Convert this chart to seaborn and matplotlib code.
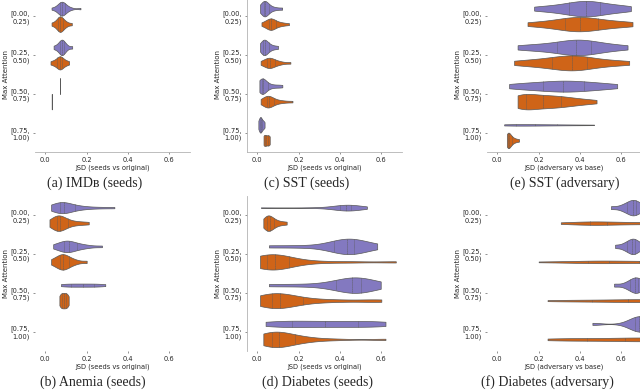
import matplotlib
matplotlib.use("Agg")
import matplotlib.pyplot as plt
import pandas as pd
import seaborn as sns

# --- DATA: JSD samples per max-attention bin ---
bins = ["[0.00,\n0.25)", "[0.25,\n0.50)", "[0.50,\n0.75)", "[0.75,\n1.00)"]
groups = ["A", "B"]  # purple, orange

imdb_a = [
    [0.03, 0.05, 0.06, 0.065, 0.07, 0.072, 0.075, 0.078, 0.08, 0.082, 0.085, 0.088, 0.09, 0.095, 0.1, 0.11, 0.125, 0.17],
    [0.04, 0.055, 0.065, 0.07, 0.075, 0.078, 0.08, 0.082, 0.085, 0.09, 0.095, 0.105, 0.13],
    [0.071, 0.0712],
    [],
]
imdb_b = [
    [0.03, 0.045, 0.055, 0.06, 0.065, 0.068, 0.07, 0.072, 0.075, 0.078, 0.082, 0.088, 0.095, 0.105, 0.128],
    [0.025, 0.04, 0.05, 0.058, 0.064, 0.068, 0.07, 0.073, 0.077, 0.082, 0.09, 0.1, 0.115],
    [0.031, 0.0312],
    [],
]

sst_a = [
    [0.013, 0.02, 0.026, 0.03, 0.033, 0.035, 0.037, 0.04, 0.044, 0.05, 0.058, 0.07, 0.09, 0.12],
    [0.013, 0.02, 0.026, 0.03, 0.033, 0.036, 0.04, 0.045, 0.052, 0.062, 0.078, 0.1],
    [0.01, 0.014, 0.018, 0.02, 0.022, 0.024, 0.026, 0.03, 0.035, 0.042, 0.055, 0.073, 0.097, 0.121],
    [0.005, 0.008, 0.011, 0.013, 0.015, 0.017, 0.019, 0.022, 0.026, 0.03, 0.035],
]
sst_b = [
    [0.02, 0.035, 0.045, 0.052, 0.058, 0.062, 0.065, 0.068, 0.072, 0.078, 0.085, 0.095, 0.11, 0.125, 0.153],
    [0.016, 0.03, 0.04, 0.047, 0.052, 0.056, 0.06, 0.064, 0.07, 0.078, 0.088, 0.1, 0.12, 0.16],
    [0.016, 0.028, 0.036, 0.042, 0.047, 0.05, 0.053, 0.056, 0.06, 0.066, 0.075, 0.088, 0.105, 0.13, 0.17],
    [0.03, 0.031, 0.034, 0.038, 0.042, 0.046, 0.05, 0.054, 0.058, 0.06],
]

sst_adv_a = [
    [0.178, 0.24, 0.29, 0.33, 0.355, 0.38, 0.40, 0.42, 0.435, 0.45, 0.47, 0.49, 0.52, 0.56, 0.6, 0.646],
    [0.098, 0.17, 0.23, 0.28, 0.32, 0.35, 0.37, 0.39, 0.41, 0.43, 0.46, 0.5, 0.55, 0.63],
    [0.057, 0.12, 0.17, 0.22, 0.26, 0.29, 0.32, 0.35, 0.38, 0.42, 0.46, 0.51, 0.58],
    [0.033, 0.05, 0.08, 0.12, 0.16, 0.2, 0.25, 0.3, 0.38, 0.468],
]
sst_adv_b = [
    [0.146, 0.22, 0.27, 0.31, 0.34, 0.36, 0.38, 0.4, 0.42, 0.44, 0.47, 0.5, 0.54, 0.6, 0.654],
    [0.081, 0.15, 0.2, 0.25, 0.283, 0.31, 0.34, 0.36, 0.372, 0.39, 0.42, 0.45, 0.5, 0.56, 0.638],
    [0.098, 0.1, 0.105, 0.115, 0.13, 0.145, 0.16, 0.18, 0.2, 0.22, 0.24, 0.26, 0.28, 0.3, 0.32, 0.35, 0.38, 0.42, 0.48],
    [0.046, 0.047, 0.049, 0.05, 0.052, 0.054, 0.057, 0.06, 0.063, 0.067, 0.072, 0.08, 0.09, 0.105],
]

anemia_a = [
    [0.028, 0.045, 0.055, 0.065, 0.072, 0.076, 0.08, 0.085, 0.092, 0.1, 0.11, 0.125, 0.145, 0.17, 0.2, 0.26, 0.334],
    [0.038, 0.06, 0.075, 0.085, 0.093, 0.1, 0.106, 0.113, 0.12, 0.13, 0.145, 0.16, 0.18, 0.21, 0.274],
    [0.076, 0.09, 0.11, 0.13, 0.15, 0.17, 0.19, 0.21, 0.23, 0.25, 0.27, 0.29],
    [],
]
anemia_b = [
    [0.02, 0.035, 0.045, 0.052, 0.058, 0.062, 0.066, 0.072, 0.08, 0.09, 0.1, 0.115, 0.14, 0.17, 0.21],
    [0.028, 0.045, 0.058, 0.067, 0.074, 0.08, 0.085, 0.09, 0.097, 0.105, 0.115, 0.13, 0.15, 0.2],
    [0.068, 0.072, 0.076, 0.08, 0.084, 0.088, 0.092, 0.096, 0.1, 0.104, 0.108, 0.113],
    [],
]

diab_a = [
    [0.017, 0.25, 0.35, 0.39, 0.405, 0.415, 0.422, 0.428, 0.434, 0.44, 0.446, 0.452, 0.46, 0.47, 0.49, 0.53],
    [0.056, 0.2, 0.33, 0.37, 0.4, 0.42, 0.435, 0.445, 0.455, 0.47, 0.49, 0.52, 0.58],
    [0.056, 0.2, 0.33, 0.38, 0.42, 0.445, 0.46, 0.47, 0.48, 0.5, 0.52, 0.55, 0.597],
    [0.04, 0.08, 0.12, 0.16, 0.2, 0.25, 0.3, 0.35, 0.4, 0.45, 0.5, 0.55, 0.6, 0.62],
]
diab_b = [
    [0.029, 0.036, 0.042, 0.047, 0.052, 0.056, 0.06, 0.066, 0.073, 0.082, 0.095, 0.115, 0.142],
    [0.013, 0.02, 0.03, 0.035, 0.045, 0.055, 0.065, 0.075, 0.08, 0.09, 0.1, 0.113, 0.13, 0.16, 0.2, 0.3, 0.45, 0.67],
    [0.013, 0.03, 0.045, 0.058, 0.068, 0.076, 0.082, 0.09, 0.1, 0.112, 0.125, 0.145, 0.17, 0.2, 0.24, 0.32, 0.4, 0.55, 0.6],
    [0.029, 0.04, 0.05, 0.06, 0.068, 0.075, 0.082, 0.09, 0.1, 0.11, 0.125, 0.14, 0.16, 0.19, 0.23, 0.26, 0.38, 0.62],
]

diab_adv_a = [
    [0.55, 0.6, 0.62, 0.635, 0.645, 0.655, 0.66, 0.665, 0.675, 0.69, 0.71],
    [0.57, 0.61, 0.625, 0.64, 0.65, 0.655, 0.66, 0.67, 0.68, 0.7],
    [0.565, 0.62, 0.64, 0.655, 0.665, 0.67, 0.675, 0.685, 0.7, 0.72],
    [0.46, 0.64, 0.66, 0.675, 0.685, 0.69, 0.695, 0.705, 0.72, 0.74],
]
diab_adv_b = [
    [0.307, 0.36, 0.41, 0.44, 0.46, 0.48, 0.5, 0.53, 0.58, 0.63, 0.68, 0.73, 0.78, 0.85, 0.9],
    [0.2, 0.3, 0.38, 0.43, 0.46, 0.49, 0.52, 0.56, 0.6, 0.65, 0.7, 0.75, 0.8, 0.88],
    [0.243, 0.32, 0.4, 0.46, 0.52, 0.58, 0.63, 0.67, 0.7, 0.73, 0.77, 0.82, 0.9],
    [0.243, 0.3, 0.36, 0.42, 0.48, 0.54, 0.6, 0.64, 0.68, 0.71, 0.74, 0.78, 0.84, 0.9],
]

xticks = [0.0, 0.2, 0.4, 0.6]
xticklabels = ["0.0", "0.2", "0.4", "0.6"]

sns.set_theme(style="white")
pal = {"A": "#8379c0", "B": "#cf6418"}

W, H = 640, 392
fig = plt.figure(figsize=(6.4, 3.92), dpi=100)

# (left px, top px, a, b, xlabel, caption, caption x px, spines)
panels = [
    (35, -3, imdb_a, imdb_b, "JSD (seeds vs original)", "(a) IMDʙ (seeds)", 95, ["bottom"]),
    (247, -3, sst_a, sst_b, "JSD (seeds vs original)", "(c) SST (seeds)", 307, ["left", "bottom"]),
    (487, -3, sst_adv_a, sst_adv_b, "JSD (adversary vs base)", "(e) SST (adversary)", 565, ["bottom"]),
    (35, 196, anemia_a, anemia_b, "JSD (seeds vs original)", "(b) Anemia (seeds)", 93, []),
    (247, 196, diab_a, diab_b, "JSD (seeds vs original)", "(d) Diabetes (seeds)", 317, ["left"]),
    (487, 196, diab_adv_a, diab_adv_b, "JSD (adversary vs base)", "(f) Diabetes (adversary)", 547, []),
]

for left, top, a_lists, b_lists, xlab, cap, capx, spines in panels:
    ax = fig.add_axes([left / W, 1 - (top + 155) / H, 155 / W, 155 / H])
    # one call per bin so that the two colours in a bin share the area scaling
    for i, cat in enumerate(bins):
        vals = a_lists[i] + b_lists[i]
        if not vals:
            continue
        sub = pd.DataFrame({
            "jsd": vals,
            "attn": [cat] * len(vals),
            "grp": ["A"] * len(a_lists[i]) + ["B"] * len(b_lists[i]),
        })
        sns.violinplot(data=sub, x="jsd", y="attn", hue="grp", order=bins,
                       hue_order=groups, palette=pal, saturation=1, dodge=True,
                       orient="y", inner="quart", cut=0, density_norm="area",
                       common_norm=True, bw_adjust=0.85, linewidth=0.5,
                       linecolor="0.35", inner_kws=dict(linewidth=0.4),
                       legend=False, ax=ax)
    ax.set_xlim(-0.05, 0.70)
    ax.set_ylim(3.5, -0.5)
    ax.set_xticks(xticks)
    ax.set_xticklabels(xticklabels)
    ax.set_yticks(range(len(bins)))
    ax.set_yticklabels(bins)
    ax.tick_params(length=1.5, width=0.5, color="0.4", pad=2, labelsize=4.8,
                   labelcolor="0.15", left=True, bottom=True)
    ax.set_xlabel(xlab, fontsize=4.8, labelpad=1, color="0.15")
    ax.set_ylabel("Max Attention", fontsize=5, labelpad=1, color="0.15")
    for s in ["left", "bottom", "top", "right"]:
        ax.spines[s].set_visible(s in spines)
        ax.spines[s].set_color("0.7")
        ax.spines[s].set_linewidth(0.6)
    cap_y = top + 3 + 183
    fig.text(capx / W, 1 - cap_y / H, cap, fontsize=10, ha="center", va="center",
             family=["Liberation Serif", "DejaVu Serif"])

fig.savefig("out.png", dpi=100)
